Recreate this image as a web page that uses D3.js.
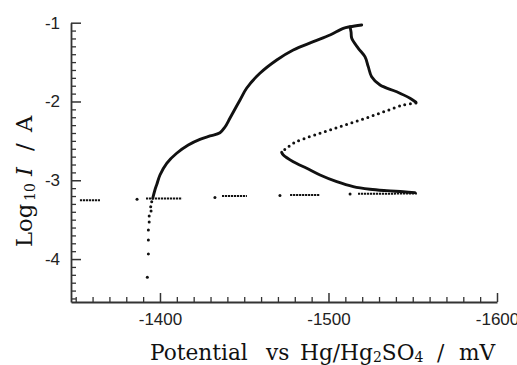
<!DOCTYPE html>
<html>
<head>
<meta charset="utf-8">
<script src="https://cdn.jsdelivr.net/npm/d3@7"></script>
<style>
  html, body { margin: 0; padding: 0; background: #fff; }
  svg { display: block; }
</style>
</head>
<body>
<svg id="chart" width="517" height="365"></svg>
<script>
// ---------- DATA (potential in mV, log10 current) ----------
const xMajorTicks = [-1400, -1500, -1600];
const xTickLabels = ["-1400", "-1500", "-1600"];
const yMajorTicks = [-1, -2, -3, -4];
const yTickLabels = ["-1", "-2", "-3", "-4"];

// open-circuit baseline scan: dashed segments [[x0,y0],[x1,y1]] and isolated points
const baselineSegments = [
  [[-1352.5, -3.253], [-1364.4, -3.253]],
  [[-1391.7, -3.231], [-1413.1, -3.231]],
  [[-1436.8, -3.200], [-1451.6, -3.200]],
  [[-1477.2, -3.187], [-1495.0, -3.187]],
  [[-1517.5, -3.172], [-1552.5, -3.168]]
];
const baselinePoints = [
  [-1386.4, -3.240], [-1432.6, -3.218], [-1471.2, -3.193], [-1512.8, -3.174]
];

// initial rise (sparse points)
const risePoints = [
  [-1392.5, -4.230], [-1393.1, -3.935], [-1393.1, -3.758], [-1393.1, -3.631],
  [-1393.6, -3.530], [-1393.6, -3.453], [-1394.7, -3.390], [-1394.5, -3.335],
  [-1395.1, -3.272]
];

// forward sweep (solid)
const forwardSweep = [
  [-1395.7, -3.228], [-1397.0, -3.123], [-1398.2, -3.047], [-1400.0, -2.933],
  [-1404.0, -2.784], [-1409.9, -2.657], [-1416.8, -2.552], [-1423.7, -2.480],
  [-1429.7, -2.438], [-1435.6, -2.396], [-1438.6, -2.324], [-1441.5, -2.213],
  [-1445.5, -2.057], [-1447.5, -1.981], [-1451.4, -1.832], [-1459.3, -1.642],
  [-1469.3, -1.473], [-1479.1, -1.346], [-1491.0, -1.241], [-1500.9, -1.156],
  [-1508.8, -1.071], [-1512.8, -1.051], [-1519.7, -1.029]
];

// breakdown / drop after peak (solid)
const dropSweep = [
  [-1512.8, -1.055], [-1513.4, -1.120], [-1513.8, -1.198], [-1517.7, -1.325],
  [-1521.7, -1.434], [-1523.6, -1.558], [-1525.6, -1.685], [-1530.6, -1.791],
  [-1540.5, -1.876], [-1548.4, -1.959], [-1551.9, -2.010]
];

// fast transition (dotted)
const transition = [
  [-1551.9, -2.020], [-1544.4, -2.044], [-1534.5, -2.117], [-1524.6, -2.193],
  [-1514.7, -2.264], [-1504.9, -2.333], [-1495.0, -2.404], [-1485.0, -2.476],
  [-1479.1, -2.530], [-1475.2, -2.594], [-1472.2, -2.637]
];

// return sweep (solid)
const returnSweep = [
  [-1472.2, -2.645], [-1473.2, -2.679], [-1479.1, -2.764], [-1487.1, -2.848],
  [-1495.0, -2.933], [-1504.9, -3.018], [-1514.7, -3.081], [-1524.6, -3.114],
  [-1534.5, -3.132], [-1544.4, -3.145], [-1551.3, -3.157]
];

// ---------- CHART ----------
const svg = d3.select("#chart");
const x = d3.scaleLinear().domain([-1347.2, -1600]).range([71, 497]);
const y = d3.scaleLinear().domain([-4.545, -1]).range([302, 22.7]);
const axisColor = "#333";
const tickFont = "'Liberation Sans', Arial, Helvetica, sans-serif";
const serif = "'DejaVu Serif', 'Liberation Serif', serif";

// x minor ticks
const xMinor = d3.range(-1350, -1601, -10).filter(v => !xMajorTicks.includes(v));
svg.append("g").attr("transform", "translate(0,302)")
  .call(d3.axisBottom(x).tickValues(xMinor).tickSizeInner(-5).tickSizeOuter(0).tickFormat(""))
  .call(g => g.select(".domain").remove())
  .call(g => g.selectAll("line").attr("stroke", axisColor).attr("stroke-width", 1.3));

// x major
const gx = svg.append("g").attr("transform", "translate(0,302)")
  .call(d3.axisBottom(x).tickValues(xMajorTicks).tickSizeInner(-9).tickSizeOuter(0)
    .tickPadding(11).tickFormat((d, i) => xTickLabels[i]));
gx.select(".domain").attr("stroke", axisColor).attr("stroke-width", 1.8);
gx.selectAll("line").attr("stroke", axisColor).attr("stroke-width", 1.5);
gx.selectAll("text").attr("font-family", tickFont).attr("font-size", 17).attr("fill", "#222");

// y minor
const yMinor = d3.range(-1, -4.55, -0.1).map(v => Math.round(v * 10) / 10)
  .filter(v => !yMajorTicks.includes(v));
svg.append("g").attr("transform", "translate(71,0)")
  .call(d3.axisLeft(y).tickValues(yMinor).tickSizeInner(-5).tickSizeOuter(0).tickFormat(""))
  .call(g => g.select(".domain").remove())
  .call(g => g.selectAll("line").attr("stroke", axisColor).attr("stroke-width", 1.3));

// y major
const gy = svg.append("g").attr("transform", "translate(71,0)")
  .call(d3.axisLeft(y).tickValues(yMajorTicks).tickSizeInner(-10).tickSizeOuter(0)
    .tickPadding(11).tickFormat((d, i) => yTickLabels[i]));
gy.select(".domain").attr("stroke", axisColor).attr("stroke-width", 1.8);
gy.selectAll("line").attr("stroke", axisColor).attr("stroke-width", 1.5);
gy.selectAll("text").attr("font-family", tickFont).attr("font-size", 17).attr("fill", "#222");

// ---------- DATA MARKS ----------
const ink = "#111";
const lineGen = d3.line().x(d => x(d[0])).y(d => y(d[1])).curve(d3.curveCatmullRom.alpha(0.5));
const straight = d3.line().x(d => x(d[0])).y(d => y(d[1]));

svg.append("g").selectAll("path").data(baselineSegments).join("path")
  .attr("d", straight).attr("fill", "none").attr("stroke", ink)
  .attr("stroke-width", 2).attr("stroke-dasharray", "2.2,0.8");

svg.append("g").selectAll("circle").data(baselinePoints.concat(risePoints)).join("circle")
  .attr("cx", d => x(d[0])).attr("cy", d => y(d[1])).attr("r", 1.5).attr("fill", ink);

[forwardSweep, dropSweep, returnSweep].forEach(s => {
  svg.append("path").attr("d", lineGen(s)).attr("fill", "none").attr("stroke", ink)
    .attr("stroke-width", 2.9).attr("stroke-linejoin", "round").attr("stroke-linecap", "round");
});

svg.append("path").attr("d", lineGen(transition)).attr("fill", "none").attr("stroke", ink)
  .attr("stroke-width", 3).attr("stroke-linecap", "round").attr("stroke-dasharray", "0,5.6");

// ---------- TITLES ----------
const tFont = 21.7;
const xTitle = svg.append("g").attr("font-family", serif).attr("font-size", tFont).attr("fill", "#111");
xTitle.append("text").attr("x", 150).attr("y", 360).text("Potential");
xTitle.append("text").attr("x", 266).attr("y", 360).text("vs");
const hg = xTitle.append("text").attr("x", 300).attr("y", 360);
hg.append("tspan").text("Hg/Hg");
hg.append("tspan").attr("font-size", 14).attr("dy", 2).text("2");
hg.append("tspan").attr("dy", -2).text("SO");
hg.append("tspan").attr("font-size", 14).attr("dy", 2).text("4");
xTitle.append("text").attr("x", 437).attr("y", 360).text("/");
xTitle.append("text").attr("x", 459).attr("y", 360).text("mV");

const yTitle = svg.append("g").attr("transform", "translate(32,247) rotate(-90)")
  .attr("font-family", serif).attr("font-size", tFont + 1).attr("fill", "#111");
yTitle.append("text").attr("x", 0).attr("y", 0).text("Log");
yTitle.append("text").attr("x", 46).attr("y", 3).attr("font-size", 14).text("10");
yTitle.append("text").attr("x", 71).attr("y", 0).attr("font-style", "italic").text("I");
yTitle.append("text").attr("x", 96).attr("y", 0).text("/");
yTitle.append("text").attr("x", 115).attr("y", 0).text("A");
</script>
</body>
</html>
